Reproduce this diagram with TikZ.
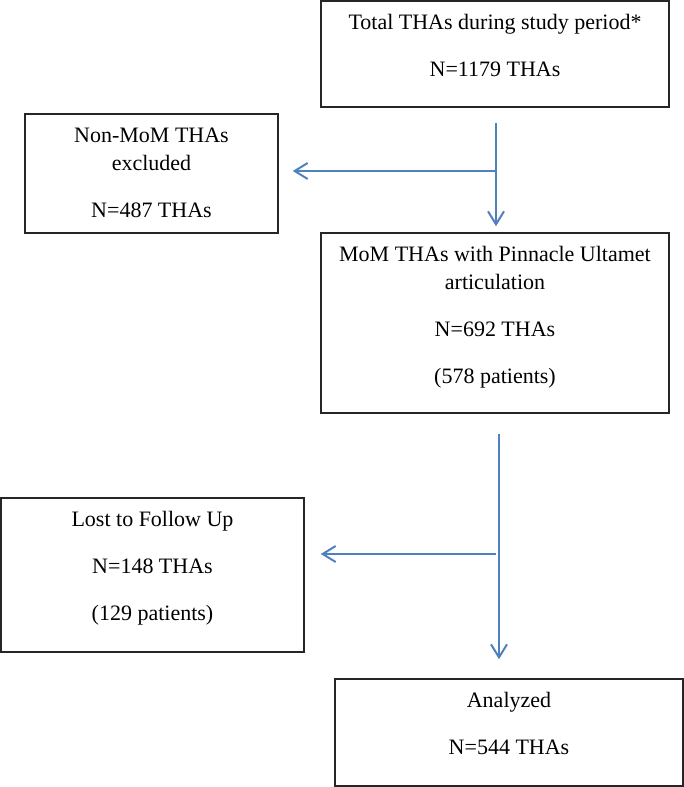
\documentclass[tikz,border=0pt]{standalone}
\usepackage{fontspec}
\setmainfont{Liberation Serif}
\usetikzlibrary{arrows.meta}
\definecolor{flowblue}{RGB}{79,129,189}

\begin{document}
\begin{tikzpicture}[x=0.5pt,y=-0.5pt]
  \tikzstyle{every node}+=[inner sep=0pt]
  \tikzstyle{box}=[draw=black!85, line width=0.75pt, rectangle]
  \tikzstyle{txt}=[anchor=north, align=center, font=\fontsize{11}{14}\selectfont]
  \tikzstyle{flow}=[draw=flowblue, line width=1pt, -{Straight Barb[length=6.5pt,width=8pt]}]
  \useasboundingbox (0,0) rectangle (684,787);
  % boxes
  \node [box, minimum width=174pt, minimum height=53pt] (total) at (495,54) {};
  \node [box, minimum width=126.5pt, minimum height=59.5pt] (nonmom) at (151.5,173.5) {};
  \node [box, minimum width=174pt, minimum height=90pt] (mom) at (495,323) {};
  \node [box, minimum width=151.5pt, minimum height=77pt] (lost) at (152.5,575) {};
  \node [box, minimum width=174pt, minimum height=53.5pt] (analyzed) at (509,732.5) {};
  % texts
  \node [txt] (totaltxt) at ([yshift=-7pt]total.north) {Total THAs during study period*\\[9.5pt] N=1179 THAs};
  \node [txt] (nonmomtxt) at ([yshift=-7pt]nonmom.north) {Non-MoM THAs\\ excluded\\[9.5pt] N=487 THAs};
  \node [txt] (momtxt) at ([yshift=-7pt]mom.north) {MoM THAs with Pinnacle Ultamet\\ articulation\\[9.5pt] N=692 THAs\\[9.5pt] (578 patients)};
  \node [txt] (losttxt) at ([yshift=-7pt]lost.north) {Lost to Follow Up\\[9.5pt] N=148 THAs\\[9.5pt] (129 patients)};
  \node [txt] (analyzedtxt) at ([yshift=-7pt]analyzed.north) {Analyzed\\[9.5pt] N=544 THAs};
  % first split
  \coordinate (s1) at ([xshift=0.5pt,yshift=-7.5pt]total.south);
  \coordinate (e1) at ([yshift=3pt]mom.north);
  \coordinate (k1) at ([xshift=7pt,yshift=1.25pt]nonmom.east);
  \draw [flow] (s1) -- (s1 |- e1);
  \draw [flow] (s1 |- k1) -- (k1);
  % second split
  \coordinate (s2) at ([xshift=2pt,yshift=-10pt]mom.south);
  \coordinate (e2) at ([yshift=9.5pt]analyzed.north);
  \coordinate (k2) at ([xshift=8pt,yshift=10.5pt]lost.east);
  \draw [flow] (s2) -- (s2 |- e2);
  \draw [flow] ([xshift=-1.5pt]s2 |- k2) -- (k2);
\end{tikzpicture}
\end{document}
